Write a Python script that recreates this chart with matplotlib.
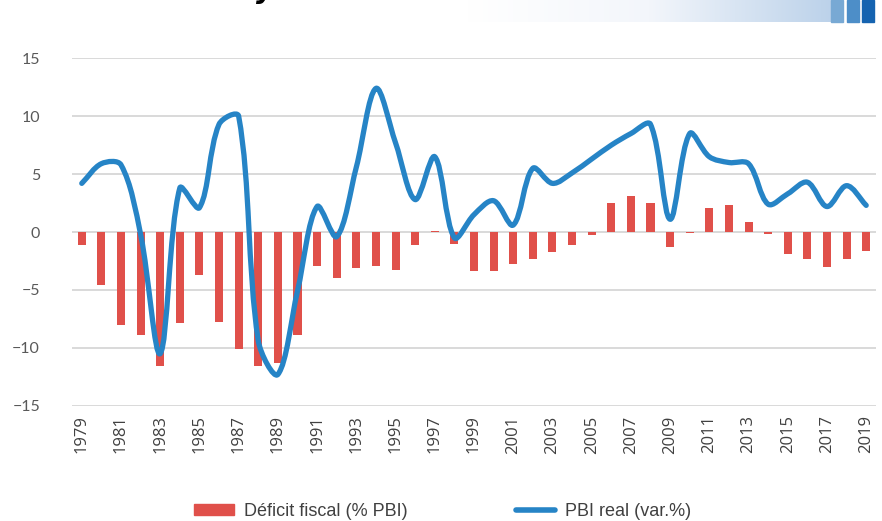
import numpy as np
import matplotlib.pyplot as plt
from matplotlib.path import Path
from matplotlib.patches import PathPatch, Patch, Rectangle
from matplotlib.lines import Line2D
from matplotlib.colors import LinearSegmentedColormap

years = list(range(1979, 2020))
deficit = [-1.1, -4.6, -8.0, -8.9, -11.6, -7.9, -3.7, -7.8, -10.1, -11.6,
           -11.3, -8.9, -2.9, -4.0, -3.1, -2.9, -3.3, -1.1, 0.1, -1.0,
           -3.4, -3.4, -2.8, -2.3, -1.7, -1.1, -0.3, 2.5, 3.1, 2.5,
           -1.3, -0.1, 2.1, 2.3, 0.9, -0.2, -1.9, -2.3, -3.0, -2.3, -1.6]
pbi = [4.2, 5.9, 5.8, -0.2, -10.5, 3.8, 2.1, 9.3, 10.0, -9.4,
       -12.3, -5.1, 2.2, -0.4, 5.6, 12.4, 7.7, 2.8, 6.5, -0.5,
       1.5, 2.7, 0.6, 5.5, 4.2, 5.1, 6.3, 7.5, 8.5, 9.3,
       1.1, 8.5, 6.5, 6.0, 5.9, 2.4, 3.3, 4.3, 2.2, 4.0, 2.3]
yticks = [-15, -10, -5, 0, 5, 10, 15]
xticks = years[::2]

c_bar = '#e0504a'
c_line = '#2684c6'


def smooth_path(x, y, sx=19.6, sy=11.56):
    # linea suavizada al estilo Excel: Bezier con tangentes ponderadas por la
    # longitud de los tramos (medida en pixeles)
    p = np.column_stack([x, y]).astype(float)
    ext = np.vstack([p[0], p, p[-1]])
    sc = np.array([sx, sy])

    def d(a, b):
        return np.hypot(*((b - a) * sc))

    verts = [p[0]]
    codes = [Path.MOVETO]
    for i in range(len(p) - 1):
        p0, p1, p2, p3 = ext[i], ext[i + 1], ext[i + 2], ext[i + 3]
        d01, d12, d23 = d(p0, p1), d(p1, p2), d(p2, p3)
        f1 = d12 / (d01 + d12) / 3 if d01 + d12 > 0 else 0
        f2 = d12 / (d12 + d23) / 3 if d12 + d23 > 0 else 0
        verts += [p1 + (p2 - p0) * f1, p2 - (p3 - p1) * f2, p2]
        codes += [Path.CURVE4] * 3
    return Path(verts, codes)


fig = plt.figure(figsize=(8.82, 5.21), dpi=100)
ax = fig.add_axes([0.0816, 0.2213, 0.9116, 0.6668])

ax.bar(years, deficit, width=0.41, color=c_bar, zorder=2)
ax.add_patch(PathPatch(smooth_path(years, pbi), fill=False, edgecolor=c_line,
                       lw=3.8, capstyle='round', joinstyle='round', zorder=3))

ax.set_xlim(1978.5, 2019.5)
ax.set_ylim(-15, 15)
ax.set_yticks(yticks)
ax.set_yticklabels(['\u221215', '\u221210', '\u22125', '0', '5', '10', '15'])
ax.set_xticks(xticks)
ax.set_xticklabels([str(y) for y in xticks], rotation=90)
ax.grid(axis='y', color='#d9d9d9', lw=1.4, zorder=0)
for s in ax.spines.values():
    s.set_visible(False)
ax.tick_params(length=0, colors='#404040')
ax.tick_params(axis='y', pad=23, labelsize=11.5)
ax.tick_params(axis='x', pad=7, labelsize=12)
for lab in ax.get_yticklabels():
    lab.set_family('Lato')
    lab.set_color('#595959')
for lab in ax.get_xticklabels():
    lab.set_family('Open Sans')
    lab.set_color('#404040')

handles = [Patch(color=c_bar), Line2D([], [], color=c_line, lw=4, solid_capstyle='round')]
fig.legend(handles, ['Déficit fiscal (% PBI)', 'PBI real (var.%)'],
           loc='center', bbox_to_anchor=(0.502, 0.019), ncol=2, frameon=False,
           prop={'family': 'Liberation Sans', 'size': 13},
           handlelength=2.2, handleheight=0.6, columnspacing=6.0, handletextpad=0.55,
           labelcolor='#404040')

# cabecera (recortada en la imagen original)
hdr = fig.add_axes([467 / 882, 1 - 22 / 521, (831 - 467) / 882, 22 / 521])
grad = np.linspace(0, 1, 256).reshape(1, -1)
cm = LinearSegmentedColormap.from_list('g', ['#ffffff', '#f3f6fb', '#bcd2ea'])
hdr.imshow(grad, aspect='auto', cmap=cm, extent=[0, 1, 0, 1])
hdr.axis('off')
for x0, col in [(831, '#78a9d4'), (847, '#4d8ec8'), (862, '#1563b0')]:
    fig.patches.append(Rectangle((x0 / 882, 1 - 22 / 521), 12 / 882, 22 / 521,
                                 transform=fig.transFigure, color=col))
fig.text(256 / 882, 1 + 2 / 521, 'y', fontsize=20, fontweight='bold', style='italic',
         va='baseline', ha='left')

fig.savefig('out.png', dpi=100)
